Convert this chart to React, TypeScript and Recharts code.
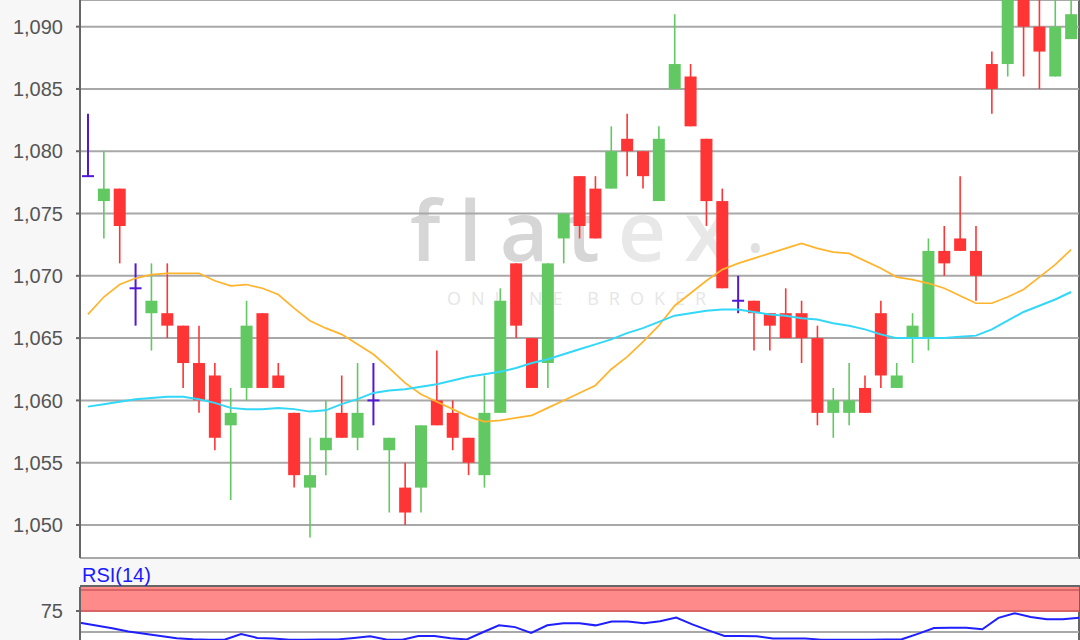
import React from 'react';
import {
  ComposedChart,
  Bar,
  Line,
  XAxis,
  YAxis,
  CartesianGrid,
  ReferenceArea,
  ReferenceLine,
} from 'recharts';

// OHLC per session (oldest first)
const opens = [
  1078, 1076, 1077, 1069, 1067, 1067, 1066, 1063, 1062, 1058,
  1061, 1067, 1062, 1059, 1053, 1056, 1059, 1057, 1060, 1056,
  1053, 1053, 1060, 1059, 1057, 1054, 1059, 1071, 1065, 1063,
  1073, 1078, 1077, 1077, 1081, 1080, 1076, 1085, 1086, 1081,
  1076, 1068, 1068, 1067, 1067, 1067, 1065, 1059, 1059, 1061,
  1067, 1061, 1065, 1065, 1072, 1073, 1072, 1087, 1087, 1094,
  1090, 1086, 1089,
];
const highs = [
  1083, 1080, 1077, 1071, 1071, 1071, 1066, 1066, 1063, 1061,
  1068, 1067, 1063, 1059, 1057, 1060, 1062, 1063, 1063, 1057,
  1055, 1058, 1064, 1060, 1057, 1062, 1069, 1071, 1065, 1071,
  1075, 1078, 1078, 1082, 1083, 1080, 1082, 1091, 1087, 1081,
  1077, 1070, 1068, 1067, 1069, 1068, 1066, 1061, 1063, 1062,
  1068, 1063, 1067, 1073, 1074, 1078, 1074, 1088, 1094, 1095,
  1094, 1094, 1093,
];
const lows = [
  1078, 1073, 1071, 1066, 1064, 1065, 1061, 1059, 1056, 1052,
  1060, 1061, 1061, 1053, 1049, 1054, 1057, 1056, 1058, 1051,
  1050, 1051, 1058, 1056, 1054, 1053, 1059, 1065, 1061, 1061,
  1071, 1073, 1073, 1077, 1078, 1077, 1076, 1085, 1082, 1074,
  1069, 1067, 1064, 1064, 1065, 1063, 1058, 1057, 1058, 1059,
  1061, 1061, 1063, 1064, 1070, 1072, 1068, 1083, 1086, 1086,
  1085, 1086, 1089,
];
const closes = [
  1078, 1077, 1074, 1069, 1068, 1066, 1063, 1060, 1057, 1059,
  1066, 1061, 1061, 1054, 1054, 1057, 1057, 1059, 1060, 1057,
  1051, 1058, 1058, 1057, 1055, 1059, 1068, 1066, 1061, 1071,
  1075, 1074, 1073, 1080, 1080, 1078, 1081, 1087, 1082, 1076,
  1069, 1068, 1067, 1066, 1065, 1065, 1059, 1060, 1060, 1059,
  1062, 1062, 1066, 1072, 1071, 1072, 1070, 1085, 1093, 1090,
  1088, 1090, 1091,
];

// moving averages (orange = short, cyan = long)
const maShort = [
  1066.9, 1068.3, 1069.3, 1069.8, 1070.1, 1070.2, 1070.2, 1070.2, 1069.6, 1069.2,
  1069.3, 1069.0, 1068.5, 1067.4, 1066.4, 1065.8, 1065.3, 1064.5, 1063.7, 1062.6,
  1061.4, 1060.5, 1059.9, 1059.3, 1058.7, 1058.3, 1058.4, 1058.6, 1058.8, 1059.4,
  1060.0, 1060.6, 1061.2, 1062.5, 1063.5, 1064.7, 1066.0, 1067.6, 1068.6, 1069.6,
  1070.5, 1071.0, 1071.4, 1071.8, 1072.2, 1072.6, 1072.2, 1071.9, 1071.8, 1071.2,
  1070.6, 1069.9, 1069.7, 1069.4, 1069.0, 1068.4, 1067.8, 1067.8, 1068.3, 1068.9,
  1069.9, 1070.9, 1072.1,
];
const maLong = [
  1059.5, 1059.7, 1059.9, 1060.1, 1060.2, 1060.3, 1060.3, 1060.1, 1059.8, 1059.4,
  1059.3, 1059.3, 1059.4, 1059.3, 1059.1, 1059.2, 1059.7, 1060.1, 1060.6, 1060.8,
  1060.9, 1061.1, 1061.3, 1061.6, 1061.9, 1062.1, 1062.3, 1062.6, 1063.0, 1063.3,
  1063.7, 1064.1, 1064.5, 1064.9, 1065.4, 1065.8, 1066.3, 1066.8, 1067.0, 1067.2,
  1067.3, 1067.3, 1067.1, 1066.9, 1066.8, 1066.6, 1066.5, 1066.2, 1066.0, 1065.7,
  1065.3, 1065.0, 1065.0, 1065.0, 1065.0, 1065.1, 1065.2, 1065.7, 1066.4, 1067.1,
  1067.6, 1068.1, 1068.7,
];

const rsi14 = [
  61.0, 57.7, 54.4, 50.6, 48.0, 45.3, 42.6, 41.3, 40.8, 41.0,
  47.5, 43.0, 42.2, 40.9, 40.7, 41.0, 41.2, 43.0, 45.0, 41.1,
  40.8, 45.2, 45.2, 42.7, 41.1, 49.7, 58.0, 55.8, 48.8, 58.0,
  60.4, 60.4, 57.9, 62.4, 62.4, 60.5, 62.8, 67.2, 59.0, 52.0,
  45.2, 45.2, 45.0, 42.4, 42.4, 42.4, 40.9, 40.7, 40.7, 40.7,
  41.0, 41.3, 47.8, 54.7, 55.0, 55.0, 53.2, 66.8, 72.4, 67.9,
  65.2, 65.2, 67.0,
];

const priceTicks = [1050, 1055, 1060, 1065, 1070, 1075, 1080, 1085, 1090];
const rsiTicks = [75];
const rsiGrid = [50];

const GREEN = '#62c962';
const RED = '#ff3535';
const DOJI = '#5218d6';
const FONT = '"Liberation Sans", Arial, sans-serif';

const data = opens.map((open, i) => ({
  idx: i,
  open,
  high: highs[i],
  low: lows[i],
  close: closes[i],
  range: [lows[i], highs[i]],
  maShort: maShort[i],
  maLong: maLong[i],
  rsi: rsi14[i],
}));

// draws one candle inside the [low, high] bar rectangle handed over by recharts
function Candle(props: any) {
  const { x, y, width, height, payload } = props;
  if (x == null || y == null || !payload) return null;
  const { open, high, low, close } = payload;
  const top = Math.min(y, y + height);
  const h = Math.abs(height);
  const k = high === low ? 0 : h / (high - low);
  const py = (v: number) => top + (high - v) * k;
  const cx = x + width / 2;

  if (open === close) {
    return (
      <g>
        <line x1={cx} x2={cx} y1={py(high)} y2={py(low)} stroke={DOJI} strokeWidth={2} />
        <line x1={x} x2={x + width} y1={py(open)} y2={py(open)} stroke={DOJI} strokeWidth={2} />
      </g>
    );
  }
  const color = close > open ? GREEN : RED;
  const bTop = py(Math.max(open, close));
  const bBot = py(Math.min(open, close));
  return (
    <g>
      <line x1={cx} x2={cx} y1={py(high)} y2={py(low)} stroke={color} strokeWidth={1.6} />
      <rect x={x} y={bTop} width={width} height={Math.max(1, bBot - bTop)} fill={color} />
    </g>
  );
}

const tickStyle = { fill: '#555', fontSize: 20, fontFamily: FONT };

export default function App() {
  return (
    <div
      style={{
        position: 'fixed',
        left: 0,
        top: 0,
        width: 1080,
        height: 640,
        overflow: 'hidden',
        background: '#f7f7f7',
        fontFamily: FONT,
      }}
    >
      {/* price panel background + watermark */}
      <div
        style={{
          position: 'absolute',
          left: 80,
          top: 0,
          width: 1000,
          height: 559,
          boxSizing: 'border-box',
          background: '#fff',
          borderRight: '2px solid #666',
          borderBottom: '2px solid #666',
        }}
      />
      <div
        style={{
          position: 'absolute',
          left: 410,
          top: 187,
          fontFamily: '"Open Sans", sans-serif',
          fontWeight: 600,
          fontSize: 84,
          lineHeight: 1,
          letterSpacing: 18,
          color: '#d6d6d6',
          whiteSpace: 'nowrap',
        }}
      >
        flat<span style={{ color: '#e8e8e8' }}>ex</span>
        <span style={{ color: '#e0e0e0', fontSize: 36 }}>•</span>
      </div>
      <div
        style={{
          position: 'absolute',
          left: 447,
          top: 289,
          fontFamily: '"Open Sans", sans-serif',
          fontSize: 18,
          lineHeight: 1,
          letterSpacing: 10,
          color: '#e6e6e6',
          whiteSpace: 'nowrap',
        }}
      >
        ONLINE BROKER
      </div>

      {/* rsi panel background */}
      <div
        style={{
          position: 'absolute',
          left: 80,
          top: 585,
          width: 1000,
          height: 70,
          boxSizing: 'border-box',
          background: '#fff',
          borderTop: '2px solid #666',
          borderRight: '2px solid #666',
        }}
      />
      <div
        style={{
          position: 'absolute',
          left: 82,
          top: 565,
          fontSize: 20,
          lineHeight: '20px',
          color: '#1a1aff',
        }}
      >
        RSI(14)
      </div>

      <div style={{ position: 'absolute', left: 0, top: 0 }}>
        <ComposedChart width={1080} height={559} data={data} margin={{ top: 0, right: 1, bottom: 1, left: 0 }}>
          <CartesianGrid vertical={false} stroke="#a8a8a8" strokeWidth={2} />
          <XAxis dataKey="idx" hide />
          <YAxis
            domain={[1047.35, 1092.14]}
            allowDataOverflow
            ticks={priceTicks}
            interval={0}
            width={80}
            tickSize={4}
            tickMargin={13}
            axisLine={{ stroke: '#666', strokeWidth: 2 }}
            tickLine={{ stroke: '#666', strokeWidth: 2 }}
            tick={tickStyle}
            tickFormatter={(v: number) => v.toLocaleString('en-US')}
          />
          <Bar dataKey="range" barSize={12} shape={<Candle />} isAnimationActive={false} />
          <Line type="linear" dataKey="maShort" stroke="#ffb42c" strokeWidth={1.7} dot={false} isAnimationActive={false} />
          <Line type="linear" dataKey="maLong" stroke="#33d7f7" strokeWidth={2} dot={false} isAnimationActive={false} />
        </ComposedChart>
      </div>

      <div style={{ position: 'absolute', left: 0, top: 587 }}>
        <ComposedChart width={1080} height={90} data={data} margin={{ top: 0, right: 1, bottom: 0, left: 0 }}>
          <XAxis dataKey="idx" hide />
          <YAxis
            domain={[-3.57, 103.57]}
            allowDataOverflow
            ticks={rsiTicks}
            interval={0}
            width={80}
            tickSize={4}
            tickMargin={13}
            axisLine={{ stroke: '#666', strokeWidth: 2 }}
            tickLine={{ stroke: '#666', strokeWidth: 2 }}
            tick={tickStyle}
          />
          {rsiGrid.map((g) => (
            <ReferenceLine key={g} y={g} stroke="#a8a8a8" strokeWidth={2} />
          ))}
          <ReferenceArea y1={75} y2={103.57} fill="#ff8a8a" fillOpacity={1} stroke="none" />
          <ReferenceLine y={100} stroke="#d96666" strokeWidth={2} />
          <ReferenceLine y={75} stroke="#d96666" strokeWidth={2} />
          <Line type="linear" dataKey="rsi" stroke="#1f1fff" strokeWidth={2} dot={false} isAnimationActive={false} />
        </ComposedChart>
      </div>
    </div>
  );
}
